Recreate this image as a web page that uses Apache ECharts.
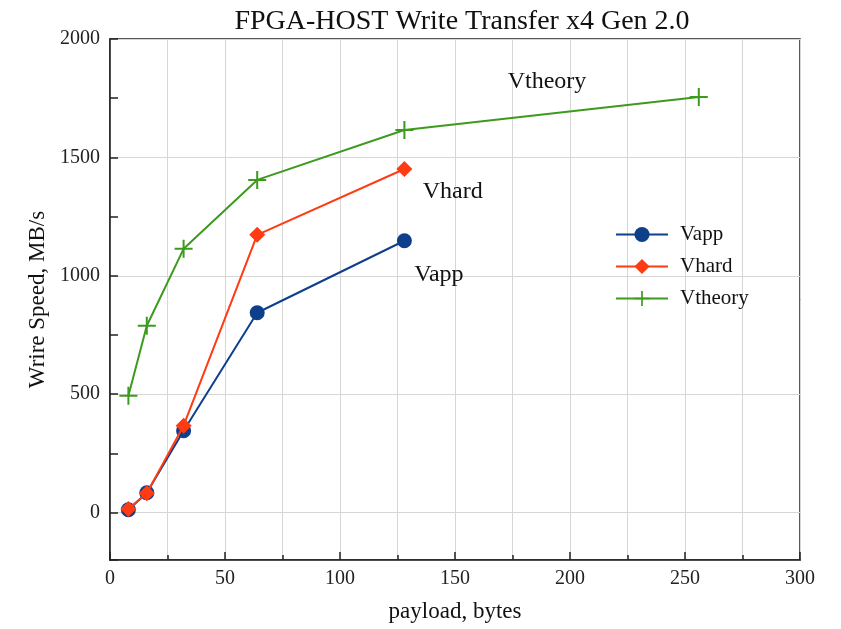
<!DOCTYPE html>
<html>
<head>
<meta charset="utf-8">
<script src="https://cdn.jsdelivr.net/npm/echarts@6/dist/echarts.min.js"></script>
<style>
html, body { margin: 0; padding: 0; background: #fff; }
#main { width: 841px; height: 629px; }
</style>
</head>
<body>
<div id="main"></div>
<script>
var payload = [8, 16, 32, 64, 128];
var payloadTheory = [8, 16, 32, 64, 128, 256];
var vapp = [12, 84, 346, 844, 1148];
var vhard = [15, 82, 367, 1173, 1451];
var vtheory = [494, 789, 1114, 1405, 1616, 1755];
// name, x, y of the text tags in data units
var tags = [['Vtheory', 190, 1818], ['Vhard', 149, 1354], ['Vapp', 143, 1004]];

var serif = '"Liberation Serif", "DejaVu Serif", serif';
var plusPath = 'path://M-1,-9 L1,-9 L1,-1 L9,-1 L9,1 L1,1 L1,9 L-1,9 L-1,1 L-9,1 L-9,-1 L-1,-1 Z';

function pairs(xs, ys) {
    return xs.map(function (x, i) { return [x, ys[i]]; });
}

option = {
    animation: false,
    title: {
        text: 'FPGA-HOST Write Transfer x4 Gen 2.0',
        left: 457,
        textAlign: 'center',
        top: 3,
        textStyle: { fontFamily: serif, fontSize: 28, fontWeight: 'normal', color: '#111' }
    },
    legend: {
        data: ['Vapp', 'Vhard', 'Vtheory'],
        orient: 'vertical',
        left: 610,
        top: 219,
        itemWidth: 52,
        itemHeight: 19,
        itemGap: 11,
        textStyle: { fontFamily: serif, fontSize: 21, color: '#111', padding: [0, 0, 0, 7] }
    },
    grid: {
        left: 110, right: 41, top: 39, bottom: 69,
        show: true,
        borderColor: '#222',
        borderWidth: 1.5
    },
    xAxis: {
        type: 'value',
        min: 0, max: 300, interval: 50,
        name: 'payload, bytes',
        nameLocation: 'middle',
        nameGap: 40,
        nameTextStyle: { fontFamily: serif, fontSize: 23, color: '#111' },
        axisLine: { onZero: false, lineStyle: { color: '#222', width: 1.5 } },
        axisTick: { inside: true, length: 8, lineStyle: { color: '#222', width: 1.5 } },
        minorTick: { show: true, splitNumber: 2, length: 5, lineStyle: { color: '#222', width: 1.5 } },
        axisLabel: { fontFamily: serif, fontSize: 20, color: '#222', margin: 9 },
        splitLine: { show: true, lineStyle: { color: '#d6d6d6' } },
        minorSplitLine: { show: true, lineStyle: { color: '#d6d6d6' } }
    },
    yAxis: {
        type: 'value',
        min: -200, max: 2000, splitNumber: 5,
        name: 'Wrire Speed, MB/s',
        nameLocation: 'middle',
        nameGap: 56,
        nameTextStyle: { fontFamily: serif, fontSize: 23, color: '#111' },
        axisLine: { onZero: false, lineStyle: { color: '#222', width: 1.5 } },
        axisTick: { inside: true, length: 8, lineStyle: { color: '#222', width: 1.5 } },
        minorTick: { show: true, splitNumber: 2, length: 8, lineStyle: { color: '#222', width: 1.5 } },
        axisLabel: {
            fontFamily: serif, fontSize: 20, color: '#222', margin: 10,
            formatter: function (v) { return v < 0 ? '' : v; }
        },
        splitLine: { show: true, lineStyle: { color: '#d6d6d6' } }
    },
    series: [{
        name: 'Vapp',
        type: 'line',
        color: '#0e3f8a',
        symbol: 'circle',
        symbolSize: 15,
        lineStyle: { width: 2 },
        data: pairs(payload, vapp),
        z: 2
    }, {
        name: 'Vhard',
        type: 'line',
        color: '#ff3b14',
        symbol: 'diamond',
        symbolSize: 16,
        lineStyle: { width: 2 },
        data: pairs(payload, vhard),
        z: 3
    }, {
        name: 'Vtheory',
        type: 'line',
        color: '#3c9a1e',
        symbol: plusPath,
        symbolSize: 18,
        lineStyle: { width: 2 },
        data: pairs(payloadTheory, vtheory),
        markPoint: {
            symbol: 'circle',
            symbolSize: 1,
            itemStyle: { color: 'rgba(0,0,0,0)' },
            label: {
                show: true,
                position: 'inside',
                fontFamily: serif,
                fontSize: 24,
                color: '#111',
                formatter: function (p) { return p.name; }
            },
            data: tags.map(function (t) { return { name: t[0], coord: [t[1], t[2]] }; })
        },
        z: 4
    }]
};
var myChart = echarts.init(document.getElementById('main'));
myChart.setOption(option);
</script>
</body>
</html>
